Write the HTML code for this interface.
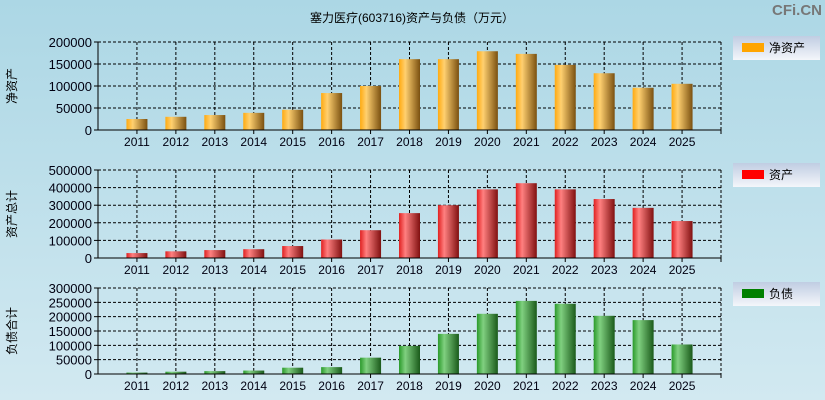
<!DOCTYPE html><html><head><meta charset="utf-8"><style>body{margin:0}svg{display:block}</style></head><body>
<svg id="s" width="825" height="400" xmlns="http://www.w3.org/2000/svg" font-family="Liberation Sans, Noto Sans CJK SC, sans-serif">
<defs>
<linearGradient id="bg" x1="0" y1="0" x2="0" y2="1"><stop offset="0" stop-color="#acd7e5"/><stop offset="1" stop-color="#d2e9f1"/></linearGradient>
<linearGradient id="go" x1="0" x2="1"><stop offset="0" stop-color="#ffaa10"/><stop offset="0.3" stop-color="#ffd070"/><stop offset="1" stop-color="#7a5010"/></linearGradient>
<linearGradient id="gr" x1="0" x2="1"><stop offset="0" stop-color="#e02020"/><stop offset="0.3" stop-color="#ff8080"/><stop offset="1" stop-color="#801010"/></linearGradient>
<linearGradient id="gg" x1="0" x2="1"><stop offset="0" stop-color="#2a9a2a"/><stop offset="0.3" stop-color="#80d080"/><stop offset="1" stop-color="#1a5a1a"/></linearGradient>
<linearGradient id="lg" x1="0" y1="0" x2="0" y2="1"><stop offset="0" stop-color="#c0cde2"/><stop offset="1" stop-color="#f4f6fa"/></linearGradient>
</defs>
<rect width="825" height="400" fill="url(#bg)"/>
<text x="412" y="22" font-size="12" text-anchor="middle">塞力医疗(603716)资产与负债（万元）</text>
<text x="822" y="15" font-size="15" font-weight="bold" fill="#777" text-anchor="end">CFi.CN</text>
<g id="g"></g>
</svg>
<script>
var g=document.getElementById('g'),h='';
var charts=[
{t:42,b:130,max:200000,step:50000,grad:'go',col:'#ffa500',name:'净资产',lab:'净资产',ly:36,
v:[25000,30000,34000,39000,46000,84000,100000,161000,161000,179000,173000,148000,129000,96000,105000]},
{t:170,b:258,max:500000,step:100000,grad:'gr',col:'#ff0000',name:'资产',lab:'资产总计',ly:163,
v:[28000,38000,45000,50000,68000,105000,158000,255000,300000,390000,425000,390000,335000,285000,210000]},
{t:288,b:374,max:300000,step:50000,grad:'gg',col:'#008000',name:'负债',lab:'负债合计',ly:282,
v:[5000,8000,10000,12000,22000,24000,57000,98000,140000,210000,255000,245000,203000,188000,103000]}];
var L=98,R=721,sp=(R-L)/16;
charts.forEach(function(c){
 var H=c.b-c.t,bars='';
 for(var v=0;v<=c.max;v+=c.step){var y=c.b-v/c.max*H;
  if(v>0)h+='<line x1="'+L+'" y1="'+y+'" x2="'+R+'" y2="'+y+'" stroke="#000" stroke-dasharray="3,2"/>';
  h+='<line x1="'+(L-4)+'" y1="'+y+'" x2="'+L+'" y2="'+y+'" stroke="#000"/>';
  h+='<text x="'+(L-6)+'" y="'+(y+5)+'" font-size="13" text-anchor="end" fill="#001">'+v+'</text>';}
 for(var i=0;i<15;i++){var x=L+sp*(i+1),y=c.b-c.v[i]/c.max*H;
  h+='<line x1="'+x+'" y1="'+c.t+'" x2="'+x+'" y2="'+c.b+'" stroke="#000" stroke-dasharray="3,2"/>';
  h+='<line x1="'+x+'" y1="'+c.b+'" x2="'+x+'" y2="'+(c.b+4)+'" stroke="#000"/>';
  h+='<text x="'+x+'" y="'+(c.b+16)+'" font-size="12" text-anchor="middle" fill="#001">'+(2011+i)+'</text>';
  bars+='<rect x="'+(x-10.5)+'" y="'+y+'" width="21" height="'+(c.b-y)+'" fill="url(#'+c.grad+')"/>';}
 h+='<line x1="'+R+'" y1="'+c.t+'" x2="'+R+'" y2="'+c.b+'" stroke="#000" stroke-dasharray="3,2"/>';
 h+=bars;
 h+='<line x1="'+L+'" y1="'+c.t+'" x2="'+L+'" y2="'+c.b+'" stroke="#000"/>';
 h+='<line x1="'+L+'" y1="'+c.b+'" x2="'+R+'" y2="'+c.b+'" stroke="#000"/>';
 h+='<line x1="'+R+'" y1="'+c.b+'" x2="'+R+'" y2="'+(c.b+4)+'" stroke="#000"/>';
 var my=(c.t+c.b)/2;
 h+='<text transform="translate(16,'+my+') rotate(-90)" font-size="12" text-anchor="middle">'+c.lab+'</text>';
 h+='<rect x="733" y="'+c.ly+'" width="87" height="24" fill="url(#lg)"/>';
 h+='<rect x="742" y="'+(c.ly+7)+'" width="22" height="9" fill="'+c.col+'"/>';
 h+='<text x="769" y="'+(c.ly+16)+'" font-size="12">'+c.name+'</text>';
});
g.innerHTML=h;
</script>
</body></html>
